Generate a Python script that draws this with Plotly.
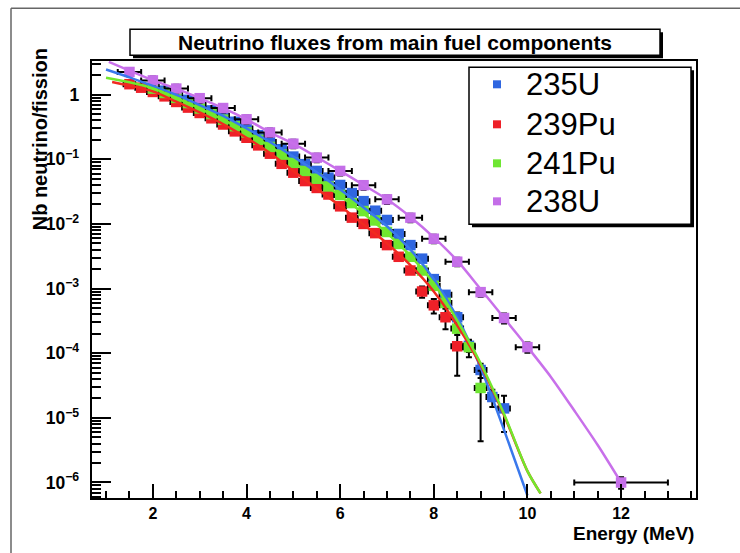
import plotly.graph_objects as go

# ---------------- data ----------------
# measured points (MeV, neutrinos / fission)
e_u235 = [2.0, 2.25, 2.5, 2.75, 3.0, 3.25, 3.5, 3.75, 4.0, 4.25, 4.5, 4.75, 5.0, 5.25, 5.5, 5.75,
          6.0, 6.25, 6.5, 6.75, 7.0, 7.25, 7.5, 7.75, 8.0, 8.25, 8.5, 8.75, 9.0, 9.25, 9.5]
f_u235 = [1.33, 1.15, 0.98, 0.83, 0.69, 0.57, 0.47, 0.38, 0.30, 0.235, 0.185, 0.143, 0.11, 0.084, 0.066, 0.052,
          0.040, 0.030, 0.0225, 0.016, 0.0115, 0.0070, 0.0047, 0.0029, 0.0014, 8.0e-4, 3.6e-4, 1.3e-4, 5.5e-5, 2.1e-5, 1.4e-5]
r_u235 = [0.03] * 20 + [0.05, 0.06, 0.08, 0.1, 0.12, 0.15, 0.18, 0.2, 0.25, 0.3, 0.57]

e_pu239 = [1.5, 1.75, 2.0, 2.25, 2.5, 2.75, 3.0, 3.25, 3.5, 3.75, 4.0, 4.25, 4.5, 4.75, 5.0, 5.25,
           5.5, 5.75, 6.0, 6.25, 6.5, 6.75, 7.0, 7.25, 7.5, 7.75, 8.0, 8.25, 8.5]
f_pu239 = [1.45, 1.28, 1.10, 0.94, 0.77, 0.63, 0.52, 0.43, 0.345, 0.27, 0.215, 0.164, 0.122, 0.085, 0.062, 0.046,
           0.036, 0.0285, 0.0187, 0.0125, 0.0100, 0.0072, 0.0047, 0.0031, 0.0019, 9.0e-4, 5.5e-4, 3.6e-4, 1.28e-4]
r_pu239 = [0.03] * 20 + [0.05, 0.06, 0.08, 0.1, 0.12, 0.2, 0.25, 0.35, 0.65]

e_pu241 = [2.0, 2.25, 2.5, 2.75, 3.0, 3.25, 3.5, 3.75, 4.0, 4.25, 4.5, 4.75, 5.0, 5.25, 5.5, 5.75,
           6.0, 6.25, 6.5, 6.75, 7.0, 7.25, 7.5, 7.75, 8.0, 8.25, 8.5, 8.75, 9.0]
f_pu241 = [1.24, 1.06, 0.89, 0.74, 0.61, 0.50, 0.41, 0.325, 0.26, 0.20, 0.155, 0.118, 0.088, 0.066, 0.050, 0.038,
           0.028, 0.021, 0.0158, 0.0113, 0.0075, 0.0049, 0.0031, 0.0019, 0.0011, 6.0e-4, 2.4e-4, 1.24e-4, 2.9e-5]
r_pu241 = [0.03] * 20 + [0.05, 0.06, 0.08, 0.1, 0.12, 0.15, 0.2, 0.3, 0.85]

e_u238 = [1.5, 2.0, 2.5, 3.0, 3.5, 4.0, 4.5, 5.0, 5.5, 6.0, 6.5, 7.0, 7.5, 8.0, 8.5, 9.0, 9.5, 10.0, 12.0]
f_u238 = [2.24, 1.66, 1.24, 0.88, 0.62, 0.415, 0.26, 0.174, 0.106, 0.066, 0.0397, 0.024, 0.0125, 0.0059, 0.0026,
          8.8e-4, 3.5e-4, 1.24e-4, 1.0e-6]
r_u238 = [0.15] * 15 + [0.15, 0.18, 0.18, 0.2]
w_u238 = [0.25] * 18 + [1.0]

# fitted curves
c_u235_e = [1.0, 1.5, 2.0, 2.5, 3.0, 3.5, 4.0, 4.5, 5.0, 5.5, 6.0, 6.5, 7.0, 7.5, 8.0, 8.5, 9.0, 9.5, 10.0]
c_u235_f = [2.45, 1.85, 1.36, 0.99, 0.69, 0.47, 0.30, 0.185, 0.11, 0.063, 0.034, 0.018, 0.0092, 0.0040,
            1.4e-3, 3.6e-4, 6.0e-5, 6.5e-6, 6.3e-7]
c_pu239_e = [1.13, 1.5, 2.0, 2.5, 3.0, 3.5, 4.0, 4.5, 5.0, 5.5, 6.0, 6.5, 7.0, 7.5, 8.0, 8.5, 9.0, 9.5, 10.0, 10.28]
c_pu239_f = [1.57, 1.38, 1.12, 0.78, 0.53, 0.35, 0.215, 0.125, 0.066, 0.035, 0.019, 0.0098, 0.0050, 0.0023,
             9.0e-4, 2.7e-4, 6.5e-5, 1.1e-5, 1.5e-6, 6.8e-7]
c_pu241_e = [1.0, 1.5, 2.0, 2.5, 3.0, 3.5, 4.0, 4.5, 5.0, 5.5, 6.0, 6.5, 7.0, 7.5, 8.0, 8.5, 9.0, 9.5, 10.0, 10.28]
c_pu241_f = [1.82, 1.55, 1.25, 0.89, 0.61, 0.41, 0.26, 0.158, 0.09, 0.050, 0.027, 0.0145, 0.0072, 0.0032,
             1.2e-3, 3.2e-4, 7.0e-5, 1.15e-5, 1.5e-6, 6.8e-7]
c_u238_e = [1.06, 1.5, 2.0, 2.5, 3.0, 3.5, 4.0, 4.5, 5.0, 5.5, 6.0, 6.5, 7.0, 7.5, 8.0, 8.5, 9.0, 9.5,
            10.0, 10.5, 11.0, 11.5, 12.0]
c_u238_f = [3.2, 2.35, 1.66, 1.24, 0.88, 0.62, 0.415, 0.26, 0.174, 0.108, 0.066, 0.040, 0.024, 0.0128,
            0.0062, 0.0027, 9.8e-4, 3.5e-4, 1.25e-4, 4.3e-5, 1.3e-5, 3.8e-6, 1.0e-6]

labels = ["235U", "239Pu", "241Pu", "238U"]
colors = ["#2f66e0", "#ee2028", "#6ee632", "#c46ee8"]
line_colors = ["#3a78ec", "#f02a20", "#72e82c", "#c870ea"]

title_text = "Neutrino fluxes from main fuel components"
ytitle = "Nb neutrino/fission"
xtitle = "Energy (MeV)"

# ---------------- figure ----------------
W, H = 740, 553
L, R, T, B = 92, 696, 60.7, 497.6


def PX(px):
    return (px - L) / (R - L)


def PY(py):
    return (B - py) / (B - T)


fig = go.Figure()

series = [
    (e_u235, f_u235, r_u235, [0.125] * len(e_u235)),
    (e_pu239, f_pu239, r_pu239, [0.125] * len(e_pu239)),
    (e_pu241, f_pu241, r_pu241, [0.125] * len(e_pu241)),
    (e_u238, f_u238, r_u238, w_u238),
]
for i, (xs, ys, rel, wx) in enumerate(series):
    err = [v * r for v, r in zip(ys, rel)]
    fig.add_trace(go.Scatter(
        x=xs, y=ys, mode="markers", name=labels[i], showlegend=False,
        marker=dict(symbol="square", size=10.5, color=colors[i]),
        error_y=dict(type="data", array=err, visible=True, color="black", thickness=2, width=3),
        error_x=dict(type="data", array=wx, visible=True, color="black", thickness=2, width=3),
    ))

curves = [(c_u235_e, c_u235_f), (c_pu239_e, c_pu239_f), (c_pu241_e, c_pu241_f), (c_u238_e, c_u238_f)]
for i, (xs, ys) in enumerate(curves):
    fig.add_trace(go.Scatter(
        x=xs, y=ys, mode="lines", showlegend=False,
        line=dict(color=line_colors[i], width=2.5, shape="spline", smoothing=0.8),
    ))

shapes = []
# outer frame lines
shapes.append(dict(type="line", xref="paper", yref="paper", x0=PX(11), y0=PY(8), x1=PX(740), y1=PY(8),
                   line=dict(color="#666666", width=1.5)))
shapes.append(dict(type="line", xref="paper", yref="paper", x0=PX(11), y0=PY(8), x1=PX(11), y1=PY(553),
                   line=dict(color="#666666", width=1.5)))
# title box with shadow
shapes.append(dict(type="rect", xref="paper", yref="paper", x0=PX(133), y0=PY(32), x1=PX(663), y1=PY(58),
                   fillcolor="black", line=dict(width=0)))
shapes.append(dict(type="rect", xref="paper", yref="paper", x0=PX(130), y0=PY(29), x1=PX(660), y1=PY(55),
                   fillcolor="white", line=dict(color="black", width=1.5)))
# legend box with shadow
shapes.append(dict(type="rect", xref="paper", yref="paper", x0=PX(472), y0=PY(70), x1=PX(694), y1=PY(227),
                   fillcolor="black", line=dict(width=0)))
shapes.append(dict(type="rect", xref="paper", yref="paper", x0=PX(469), y0=PY(67), x1=PX(691), y1=PY(224),
                   fillcolor="white", line=dict(color="black", width=1.5)))

annotations = [
    dict(text=title_text, xref="paper", yref="paper", x=PX(395), y=PY(42), showarrow=False,
         xanchor="center", yanchor="middle",
         font=dict(family="Liberation Sans", size=21, color="black", weight="bold")),
    dict(text=ytitle, xref="paper", yref="paper", x=PX(40), y=PY(139), showarrow=False, textangle=-90,
         xanchor="center", yanchor="middle",
         font=dict(family="Liberation Sans", size=20, color="black", weight="bold")),
    dict(text=xtitle, xref="paper", yref="paper", x=PX(696), y=PY(533), showarrow=False,
         xanchor="right", yanchor="middle",
         font=dict(family="Liberation Sans", size=19, color="black", weight="bold")),
]

leg_y = [84, 124, 163, 201]
for i, lab in enumerate(labels):
    shapes.append(dict(type="rect", xref="paper", yref="paper",
                       x0=PX(493), x1=PX(501), y0=PY(leg_y[i] + 4), y1=PY(leg_y[i] - 4),
                       fillcolor=colors[i], line=dict(width=0)))
    annotations.append(dict(text=lab, xref="paper", yref="paper", x=PX(524), y=PY(leg_y[i]),
                            showarrow=False, xanchor="left", yanchor="middle",
                            font=dict(family="Liberation Sans", size=31, color="black")))

fig.update_layout(
    width=W, height=H,
    margin=dict(l=L, r=W - R, t=T, b=H - B, pad=0),
    paper_bgcolor="white", plot_bgcolor="white",
    showlegend=False,
    shapes=shapes, annotations=annotations,
)
fig.update_xaxes(
    range=[0.7, 13.6], tick0=0, dtick=2, ticks="inside", ticklen=14, tickwidth=2, tickcolor="black",
    showline=True, linecolor="black", linewidth=2, mirror=True, showgrid=False, zeroline=False,
    tickfont=dict(family="Liberation Sans", size=16, color="black", weight="bold"),
    ticklabelstandoff=0,
    minor=dict(ticks="inside", ticklen=7, tickwidth=1.5, tickcolor="black", dtick=0.5, tick0=0, showgrid=False),
)
fig.update_yaxes(
    type="log", range=[-6.24, 0.52], dtick=1, ticks="inside", ticklen=19, tickwidth=2, tickcolor="black",
    showline=True, linecolor="black", linewidth=2, mirror=True, showgrid=False, zeroline=False,
    exponentformat="power",
    tickfont=dict(family="Liberation Sans", size=14, color="black", weight="bold"),
    ticklabelstandoff=8,
    minor=dict(ticks="inside", ticklen=9, tickwidth=1.5, tickcolor="black", dtick="D1", showgrid=False),
)

fig.write_html("out.html", config={"displayModeBar": False},
               post_script="document.body.style.margin='0';")
